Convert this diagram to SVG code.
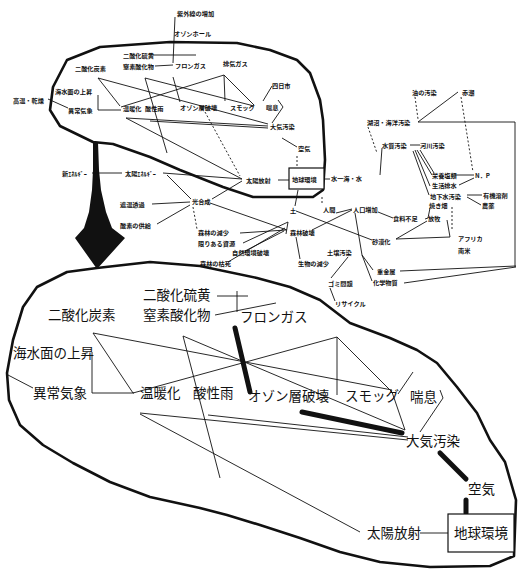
<svg xmlns="http://www.w3.org/2000/svg" width="519" height="570" viewBox="0 0 519 570">
<style>
.s{font-family:"Noto Sans CJK JP","Noto Sans",sans-serif;font-size:6.2px;font-weight:bold;fill:#111}
.b{font-family:"Noto Sans CJK JP","Noto Sans",sans-serif;font-size:13.5px;fill:#111}
.c line,.c polyline,.c path{stroke:#111;stroke-width:0.9;fill:none}
.c .d{stroke-dasharray:2 2}
.c .t{stroke-width:5;stroke-linecap:round}
.o{stroke:#111;stroke-width:2.6;fill:none;stroke-linejoin:round}
.bx{stroke:#111;stroke-width:1.2;fill:#fff}
</style>
<rect width="519" height="570" fill="#fff"/>
<g id="outlines">
<path class="o" d="M93,142 L113,144 L150,157 L180,170 L223,187 L253,197 L313,197 L323,190 L325,160 L323,120 L320,100 L310,73 L297,60 L270,50 L237,43 L170,42 L100,47 L67,60 L53,87 L50,110 L60,126 Z"/>
<path class="o" d="M97,268 L67,272 L37,287 L23,307 L13,340 L7,373 L9,400 L20,425 L43,445 L73,463 L110,482 L150,497 L200,508 L227,515 L260,525 L300,538 L340,552 L380,562 L430,567 L490,566 L514,556 L516,500 L505,462 L490,440 L477,413 L457,387 L437,363 L417,350 L390,338 L350,323 L320,300 L290,287 L257,278 L200,266 L150,262 Z"/>
</g>
<g id="arrow"><polygon points="93,142 98,142 99,170 101,190 106,212 112,228 125,238 97,269 75,238 84,228 89,212 92,190 93,170" fill="#111"/></g>
<g class="c" id="connectors">
<line x1="175" y1="17" x2="173" y2="63"/>
<line x1="153" y1="55" x2="196" y2="55"/>
<line x1="155" y1="66" x2="173" y2="65"/>
<line x1="98" y1="78" x2="120" y2="106"/>
<polyline points="98,95 98,110 121,110"/>
<line x1="48" y1="99" x2="68" y2="108"/>
<line x1="98" y1="78" x2="268" y2="124"/>
<line x1="145" y1="78" x2="254" y2="106"/>
<line x1="145" y1="78" x2="167" y2="153"/>
<line x1="121" y1="107" x2="224" y2="75"/>
<line x1="224" y1="75" x2="225" y2="101"/>
<line x1="224" y1="75" x2="254" y2="105"/>
<line x1="173" y1="77" x2="180" y2="102"/>
<line x1="272" y1="86" x2="263" y2="101"/>
<polyline points="278,100 283,107 272,123"/>
<line x1="126" y1="118" x2="268" y2="126"/>
<line x1="150" y1="121" x2="268" y2="128"/>
<line x1="282" y1="138" x2="297" y2="147"/>
<line class="d" x1="297" y1="156" x2="297" y2="167"/>
<line x1="278" y1="180" x2="289" y2="180"/>
<line x1="324" y1="179" x2="330" y2="179"/>
<line x1="126" y1="118" x2="242" y2="179"/>
<line x1="163" y1="173" x2="242" y2="179"/>
<line x1="167" y1="175" x2="191" y2="199"/>
<line x1="92" y1="173" x2="122" y2="173"/>
<line x1="152" y1="204" x2="190" y2="202"/>
<line x1="157" y1="224" x2="190" y2="205"/>
<line x1="212" y1="199" x2="242" y2="181"/>
<line x1="210" y1="203" x2="287" y2="230"/>
<line class="d" x1="205" y1="112" x2="240" y2="176"/>
<line class="d" x1="193" y1="207" x2="197" y2="229"/>
<line x1="240" y1="233" x2="286" y2="230"/>
<line x1="243" y1="243" x2="288" y2="222"/>
<line x1="288" y1="222" x2="286" y2="234"/>
<line x1="228" y1="262" x2="285" y2="228"/>
<line x1="245" y1="251" x2="284" y2="231"/>
<line x1="296" y1="237" x2="300" y2="259"/>
<line x1="312" y1="230" x2="352" y2="210"/>
<line x1="296" y1="211" x2="372" y2="240"/>
<line x1="336" y1="213" x2="352" y2="209"/>
<line class="d" x1="322" y1="197" x2="322" y2="205"/>
<line x1="298" y1="190" x2="295" y2="206"/>
<line x1="378" y1="212" x2="393" y2="218"/>
<polyline points="425,219 428,218 430,208"/>
<polyline points="396,239 427,221"/>
<polyline points="396,239 450,237 447,220"/>
<line class="d" x1="452" y1="207" x2="452" y2="230"/>
<polyline points="355,213 362,255 373,270"/>
<line x1="362" y1="255" x2="372" y2="281"/>
<line x1="400" y1="271" x2="516" y2="266"/>
<line x1="404" y1="283" x2="516" y2="267"/>
<line x1="515" y1="122" x2="515" y2="267"/>
<line x1="418" y1="122" x2="515" y2="122"/>
<line x1="418" y1="122" x2="458" y2="92"/>
<line class="d" x1="415" y1="97" x2="418" y2="119"/>
<line class="d" x1="461" y1="97" x2="473" y2="172"/>
<line x1="382" y1="148" x2="380" y2="175"/>
<line class="d" x1="368" y1="127" x2="377" y2="153"/>
<line x1="410" y1="145" x2="420" y2="145"/>
<line x1="417" y1="150" x2="432" y2="175"/>
<line x1="415" y1="150" x2="430" y2="186"/>
<line x1="420" y1="150" x2="434" y2="173"/>
<line x1="413" y1="151" x2="429" y2="195"/>
<line x1="455" y1="175" x2="474" y2="175"/>
<line x1="459" y1="185" x2="474" y2="178"/>
<line x1="467" y1="195" x2="482" y2="195"/>
<line x1="467" y1="197" x2="481" y2="205"/>
<line x1="348" y1="257" x2="331" y2="278"/>
<line x1="330" y1="288" x2="335" y2="301"/>
<line x1="217" y1="296" x2="248" y2="296"/>
<line x1="237" y1="291" x2="237" y2="312"/>
<line x1="215" y1="315" x2="276" y2="303"/>
<line x1="93" y1="333" x2="133" y2="393"/>
<line x1="93" y1="333" x2="392" y2="390"/>
<polyline points="92,352 92,393 134,393"/>
<line x1="8" y1="375" x2="33" y2="388"/>
<line x1="133" y1="393" x2="337" y2="337"/>
<line x1="337" y1="337" x2="337" y2="395"/>
<polyline points="337,337 392,392 405,430"/>
<line x1="183" y1="336" x2="220" y2="478"/>
<line x1="183" y1="336" x2="405" y2="430"/>
<line x1="140" y1="414" x2="360" y2="532"/>
<line x1="140" y1="413" x2="408" y2="440"/>
<line x1="208" y1="415" x2="408" y2="437"/>
<line x1="413" y1="372" x2="398" y2="394"/>
<polyline points="440,390 443,398 420,432"/>
<line x1="420" y1="533" x2="448" y2="533"/>
<line class="t" x1="235" y1="328" x2="250" y2="392"/>
<line class="t" x1="302" y1="412" x2="402" y2="433"/>
<line class="t" x1="440" y1="453" x2="466" y2="479"/>
<line class="t" x1="466" y1="500" x2="466" y2="513"/>
</g>
<g id="box-small"><rect class="bx" x="289" y="168" width="35" height="21"/><text class="s" x="292" y="182">地球環境</text></g>
<g id="box-big"><rect class="bx" x="448" y="514" width="66" height="38"/><text class="b" x="454" y="538">地球環境</text></g>
<g id="n1"><text class="s" x="177" y="16">紫外線の増加</text></g>
<g id="n2"><text class="s" x="174" y="36">オゾンホール</text></g>
<g id="n3"><text class="s" x="123" y="58">二酸化硫黄</text></g>
<g id="n4"><text class="s" x="123" y="69">窒素酸化物</text></g>
<g id="n5"><text class="s" x="175" y="68">フロンガス</text></g>
<g id="n6"><text class="s" x="223" y="66">排気ガス</text></g>
<g id="n7"><text class="s" x="75" y="71">二酸化炭素</text></g>
<g id="n8"><text class="s" x="272" y="88">四日市</text></g>
<g id="n9"><text class="s" x="55" y="94">海水面の上昇</text></g>
<g id="n10"><text class="s" x="13" y="103">高温・乾燥</text></g>
<g id="n11"><text class="s" x="68" y="113">異常気象</text></g>
<g id="n12"><text class="s" x="123" y="111">温暖化</text></g>
<g id="n13"><text class="s" x="145" y="111">酸性雨</text></g>
<g id="n14"><text class="s" x="180" y="110">オゾン層破壊</text></g>
<g id="n15"><text class="s" x="230" y="110">スモッグ</text></g>
<g id="n16"><text class="s" x="266" y="110">喘息</text></g>
<g id="n17"><text class="s" x="270" y="129">大気汚染</text></g>
<g id="n18"><text class="s" x="298" y="151">空気</text></g>
<g id="n19"><text class="s" x="246" y="183">太陽放射</text></g>
<g id="n20"><text class="s" x="331" y="181">水一海・水</text></g>
<g id="n21"><text class="s" x="412" y="95">油の汚染</text></g>
<g id="n22"><text class="s" x="462" y="95">赤潮</text></g>
<g id="n23"><text class="s" x="367" y="125">湖沼・海洋汚染</text></g>
<g id="n24"><text class="s" x="382" y="148">水質汚染</text></g>
<g id="n25"><text class="s" x="420" y="148">河川汚染</text></g>
<g id="n26"><text class="s" x="432" y="178">栄養塩類</text></g>
<g id="n27"><text class="s" x="475" y="178">N．P</text></g>
<g id="n28"><text class="s" x="432" y="188">生活排水</text></g>
<g id="n29"><text class="s" x="430" y="199">地下水汚染</text></g>
<g id="n30"><text class="s" x="483" y="198">有機溶剤</text></g>
<g id="n31"><text class="s" x="482" y="208">農薬</text></g>
<g id="n32"><text class="s" x="429" y="208">焼き畑</text></g>
<g id="n33"><text class="s" x="353" y="212">人口増加</text></g>
<g id="n34"><text class="s" x="393" y="221">食料不足</text></g>
<g id="n35"><text class="s" x="428" y="221">放牧</text></g>
<g id="n36"><text class="s" x="458" y="241">アフリカ</text></g>
<g id="n37"><text class="s" x="458" y="253">南米</text></g>
<g id="n38"><text class="s" x="372" y="244">砂漠化</text></g>
<g id="n39"><text class="s" x="327" y="255">土壌汚染</text></g>
<g id="n40"><text class="s" x="377" y="274">重金属</text></g>
<g id="n41"><text class="s" x="373" y="285">化学物質</text></g>
<g id="n42"><text class="s" x="328" y="286">ゴミ問題</text></g>
<g id="n43"><text class="s" x="335" y="306">リサイクル</text></g>
<g id="n44"><text class="s" x="298" y="266">生物の減少</text></g>
<g id="n45"><text class="s" x="290" y="235">森林破壊</text></g>
<g id="n46"><text class="s" x="323" y="212">人間</text></g>
<g id="n47"><text class="s" x="290" y="213">土</text></g>
<g id="n48"><text class="s" x="198" y="235">森林の減少</text></g>
<g id="n49"><text class="s" x="198" y="246">限りある資源</text></g>
<g id="n50"><text class="s" x="232" y="255">自然環境破壊</text></g>
<g id="n51"><text class="s" x="200" y="266">森林の枯死</text></g>
<g id="n52"><text class="s" x="192" y="204">光合成</text></g>
<g id="n53"><text class="s" x="62" y="176">新ｴﾈﾙｷﾞｰ</text></g>
<g id="n54"><text class="s" x="125" y="176">太陽ｴﾈﾙｷﾞｰ</text></g>
<g id="n55"><text class="s" x="120" y="207">遮温透過</text></g>
<g id="n56"><text class="s" x="120" y="228">酸素の供給</text></g>
<g id="N1"><text class="b" x="143" y="300">二酸化硫黄</text></g>
<g id="N2"><text class="b" x="143" y="320">窒素酸化物</text></g>
<g id="N3"><text class="b" x="48" y="320">二酸化炭素</text></g>
<g id="N4"><text class="b" x="240" y="322">フロンガス</text></g>
<g id="N5"><text class="b" x="13" y="358">海水面の上昇</text></g>
<g id="N6"><text class="b" x="33" y="398">異常気象</text></g>
<g id="N7"><text class="b" x="140" y="398">温暖化</text></g>
<g id="N8"><text class="b" x="193" y="398">酸性雨</text></g>
<g id="N9"><text class="b" x="248" y="401">オゾン層破壊</text></g>
<g id="N10"><text class="b" x="345" y="401">スモッグ</text></g>
<g id="N11"><text class="b" x="410" y="402">喘息</text></g>
<g id="N12"><text class="b" x="406" y="446">大気汚染</text></g>
<g id="N13"><text class="b" x="468" y="494">空気</text></g>
<g id="N14"><text class="b" x="367" y="538">太陽放射</text></g>
</svg>
